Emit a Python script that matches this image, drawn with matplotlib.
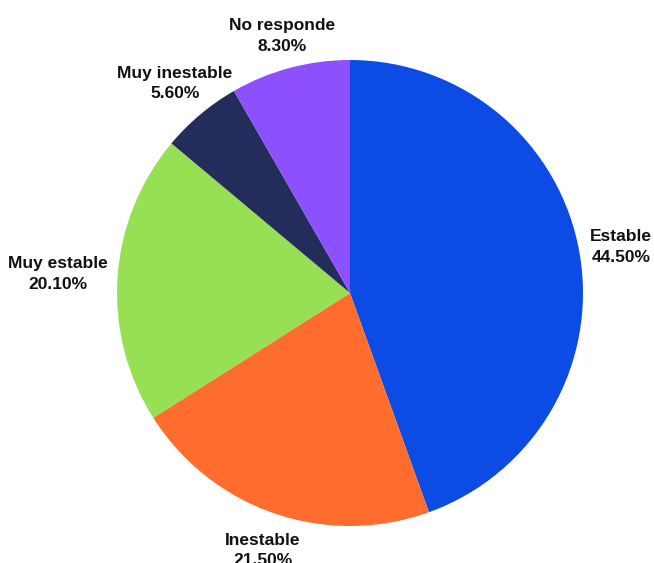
import matplotlib
matplotlib.use("Agg")
import matplotlib.pyplot as plt

categories = ["Estable", "Inestable", "Muy estable", "Muy inestable", "No responde"]
values = [44.5, 21.5, 20.1, 5.6, 8.3]
colors = ["#0C4CE4", "#FF6D2E", "#97E053", "#232C5A", "#8C50FF"]
label_pos = [(1.163, 0.197), (-0.373, -1.105), (-1.253, 0.082), (-0.751, 0.90), (-0.292, 1.103)]

plt.rcParams['font.family'] = ['Liberation Sans', 'DejaVu Sans']
W, H = 654, 563
fig = plt.figure(figsize=(W / 100, H / 100), dpi=100)
cx, cy, r = 350, 293, 233
ax = fig.add_axes([(cx - r) / W, (H - cy - r) / H, 2 * r / W, 2 * r / H])
wedges, _ = ax.pie(values, colors=colors, startangle=90, counterclock=False, radius=1,
                   wedgeprops=dict(linewidth=0))
ax.set_xlim(-1, 1)
ax.set_ylim(-1, 1)
ax.set_aspect("equal")
ax.axis("off")
for name, v, (x, y) in zip(categories, values, label_pos):
    ax.text(x, y, f"{name}\n{v:.2f}%", ha="center", va="center", fontsize=12.5,
            fontweight="bold", color="#111111", linespacing=1.45, clip_on=False)
fig.savefig("out.png", dpi=100)
